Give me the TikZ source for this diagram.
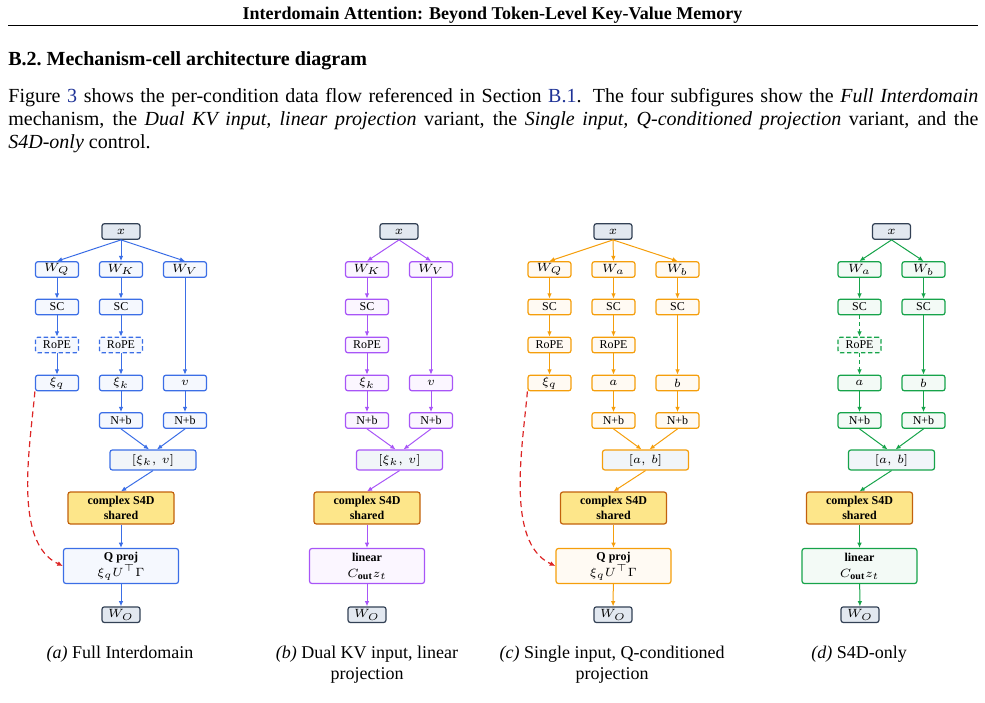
\documentclass[tikz,border=0pt]{standalone}
\usepackage{amssymb, amsmath}
\usepackage{fontspec}
\setmainfont{Liberation Serif}
\usetikzlibrary{arrows.meta}

\definecolor{linkblue}{RGB}{30,50,150}
\definecolor{cA}{RGB}{59,110,230}
\definecolor{cB}{RGB}{168,85,247}
\definecolor{cC}{RGB}{245,158,11}
\definecolor{cD}{RGB}{22,163,74}
\definecolor{kvfill}{RGB}{241,245,249}
\definecolor{xfill}{RGB}{226,232,240}
\definecolor{xdraw}{RGB}{51,65,85}
\definecolor{sfill}{RGB}{253,230,138}
\definecolor{sdraw}{RGB}{194,97,12}
\definecolor{qlink}{RGB}{220,38,38}

\tikzset{
  box/.style={rounded corners=1.2pt, line width=0.6pt, inner sep=0pt, align=center,
    font=\fontsize{6}{8}\selectfont},
  inbox/.style={box, draw=xdraw, fill=xfill, minimum width=19pt, minimum height=7.8pt},
  cell/.style={box, draw=#1, fill=#1!5, minimum width=21.5pt, minimum height=7.8pt},
  optcell/.style={cell=#1, dash pattern=on 2.2pt off 1.3pt},
  kvbox/.style={box, draw=#1, fill=kvfill, minimum width=43pt, minimum height=10pt},
  ssm/.style={box, draw=sdraw, fill=sfill, minimum width=53pt, minimum height=16pt,
    font=\bfseries\fontsize{6}{7.2}\selectfont},
  projbox/.style={box, draw=#1, fill=#1!5, minimum width=57.5pt, minimum height=17.5pt},
  flow/.style={draw=#1, line width=0.5pt, -{Latex[length=2.6pt,width=2.3pt]}},
  optflow/.style={flow=#1, dash pattern=on 2pt off 1.3pt},
  qarrow/.style={draw=qlink, line width=0.6pt, dash pattern=on 3pt off 2pt,
    -{Latex[length=2.8pt,width=2.5pt]}},
  caption/.style={anchor=north, inner sep=0pt, align=center, font=\fontsize{9}{10.5}\selectfont}
}

\begin{document}
\begin{tikzpicture}[x=0.5pt, y=-0.5pt]
\useasboundingbox (0,0) rectangle (985,702);

\node[anchor=base, inner sep=0pt, font=\bfseries\fontsize{9}{11}\selectfont] (runhead) at (492.5,19)
  {Interdomain Attention: Beyond Token-Level Key-Value Memory};
\draw[line width=0.9pt] (8,25.5) -- (978,25.5);
\node[anchor=base west, inner sep=0pt, font=\bfseries\fontsize{10}{12}\selectfont] (sect) at (8,65)
  {B.2.\ Mechanism-cell architecture diagram};
\node[anchor=north west, inner sep=0pt, text width=485pt, align=justify, font=\fontsize{10}{11.5}\selectfont] (para) at (8,88)
  {Figure \textcolor{linkblue}{3} shows the per-condition data flow referenced in Section \textcolor{linkblue}{B.1}. The four subfigures show the \emph{Full Interdomain} mechanism, the \emph{Dual KV input, linear projection} variant, the \emph{Single input, Q-conditioned projection} variant, and the\linebreak \emph{S4D-only} control.};

% (a) full interdomain
\node[inbox] (inA) at (121,231.5) {$x$};
\node[cell=cA] (wqA) at (57,269.5) {$W_Q$};
\node[cell=cA] (wkA) at (121,269.5) {$W_K$};
\node[cell=cA] (wvA) at (185,269.5) {$W_V$};
\node[cell=cA] (scqA) at (57,307) {SC};
\node[cell=cA] (sckA) at (121,307) {SC};
\node[optcell=cA] (ropeqA) at (57,345) {RoPE};
\node[optcell=cA] (ropekA) at (121,345) {RoPE};
\node[cell=cA] (xiqA) at (57,383) {$\xi_q$};
\node[cell=cA] (xikA) at (121,383) {$\xi_k$};
\node[cell=cA] (vA) at (185,383) {$v$};
\node[cell=cA] (nkA) at (121,420.5) {N+b};
\node[cell=cA] (nvA) at (185,420.5) {N+b};
\node[kvbox=cA] (kvA) at (153,460) {$[\xi_k,\ v]$};
\node[ssm] (ssmA) at (121,508) {complex S4D\\shared};
\node[projbox=cA] (projA) at (121,566) {\textbf{Q proj}\\$\xi_q U^\top\Gamma$};
\node[inbox] (woA) at (121,614.7) {$W_O$};
\node[caption] (capA) at (120,646) {\textit{(a)} Full Interdomain};

\draw[flow=cA] (inA.south) -- (wqA.north);
\draw[flow=cA] (inA.south) -- (wkA.north);
\draw[flow=cA] (inA.south) -- (wvA.north);
\draw[flow=cA] (wqA) -- (scqA);
\draw[flow=cA] (scqA) -- (ropeqA);
\draw[flow=cA] (ropeqA) -- (xiqA);
\draw[flow=cA] (wkA) -- (sckA);
\draw[flow=cA] (sckA) -- (ropekA);
\draw[flow=cA] (ropekA) -- (xikA);
\draw[flow=cA] (wvA) -- (vA);
\draw[flow=cA] (xikA) -- (nkA);
\draw[flow=cA] (vA) -- (nvA);
\draw[flow=cA] (nkA.south) -- ([xshift=-2pt]kvA.north);
\draw[flow=cA] (nvA.south) -- ([xshift=2pt]kvA.north);
\draw[flow=cA] (kvA.south) -- (ssmA.north);
\draw[flow=cA] (ssmA) -- (projA);
\draw[flow=cA] (projA) -- (woA);
\draw[qarrow] (xiqA.south west) to[out=265, in=155, looseness=0.8] (projA.west);

% (b) dual kv input, linear projection
\node[inbox] (inB) at (399,231.5) {$x$};
\node[cell=cB] (wkB) at (367,269.5) {$W_K$};
\node[cell=cB] (wvB) at (431,269.5) {$W_V$};
\node[cell=cB] (sckB) at (367,307) {SC};
\node[cell=cB] (ropekB) at (367,345) {RoPE};
\node[cell=cB] (xikB) at (367,383) {$\xi_k$};
\node[cell=cB] (vB) at (431,383) {$v$};
\node[cell=cB] (nkB) at (367,420.5) {N+b};
\node[cell=cB] (nvB) at (431,420.5) {N+b};
\node[kvbox=cB] (kvB) at (399.5,460) {$[\xi_k,\ v]$};
\node[ssm] (ssmB) at (367,508) {complex S4D\\shared};
\node[projbox=cB] (linB) at (367,566) {\textbf{linear}\\$C_{\textbf{out}}z_t$};
\node[inbox] (woB) at (367,614.7) {$W_O$};
\node[caption] (capB) at (367,646) {\textit{(b)} Dual KV input, linear\\projection};

\draw[flow=cB] (inB.south) -- (wkB.north);
\draw[flow=cB] (inB.south) -- (wvB.north);
\draw[flow=cB] (wkB) -- (sckB);
\draw[flow=cB] (sckB) -- (ropekB);
\draw[flow=cB] (ropekB) -- (xikB);
\draw[flow=cB] (wvB) -- (vB);
\draw[flow=cB] (xikB) -- (nkB);
\draw[flow=cB] (vB) -- (nvB);
\draw[flow=cB] (nkB.south) -- ([xshift=-2pt]kvB.north);
\draw[flow=cB] (nvB.south) -- ([xshift=2pt]kvB.north);
\draw[flow=cB] (kvB.south) -- (ssmB.north);
\draw[flow=cB] (ssmB) -- (linB);
\draw[flow=cB] (linB) -- (woB);

% (c) single input, q-conditioned projection
\node[inbox] (inC) at (613,231.5) {$x$};
\node[cell=cC] (wqC) at (549.5,269.5) {$W_Q$};
\node[cell=cC] (waC) at (613.5,269.5) {$W_a$};
\node[cell=cC] (wbC) at (677.5,269.5) {$W_b$};
\node[cell=cC] (scqC) at (549.5,307) {SC};
\node[cell=cC] (scaC) at (613.5,307) {SC};
\node[cell=cC] (scbC) at (677.5,307) {SC};
\node[cell=cC] (ropeqC) at (549.5,345) {RoPE};
\node[cell=cC] (ropeaC) at (613.5,345) {RoPE};
\node[cell=cC] (xiqC) at (549.5,383) {$\xi_q$};
\node[cell=cC] (aC) at (613.5,383) {$a$};
\node[cell=cC] (bC) at (677.5,383) {$b$};
\node[cell=cC] (naC) at (613.5,420.5) {N+b};
\node[cell=cC] (nbC) at (677.5,420.5) {N+b};
\node[kvbox=cC] (abC) at (645.5,460) {$[a,\ b]$};
\node[ssm] (ssmC) at (613.5,508) {complex S4D\\shared};
\node[projbox=cC] (projC) at (613.5,566) {\textbf{Q proj}\\$\xi_q U^\top\Gamma$};
\node[inbox] (woC) at (613,614.7) {$W_O$};
\node[caption] (capC) at (612,646) {\textit{(c)} Single input, Q-conditioned\\projection};

\draw[flow=cC] (inC.south) -- (wqC.north);
\draw[flow=cC] (inC.south) -- (waC.north);
\draw[flow=cC] (inC.south) -- (wbC.north);
\draw[flow=cC] (wqC) -- (scqC);
\draw[flow=cC] (scqC) -- (ropeqC);
\draw[flow=cC] (ropeqC) -- (xiqC);
\draw[flow=cC] (waC) -- (scaC);
\draw[flow=cC] (scaC) -- (ropeaC);
\draw[flow=cC] (ropeaC) -- (aC);
\draw[flow=cC] (wbC) -- (scbC);
\draw[flow=cC] (scbC) -- (bC);
\draw[flow=cC] (aC) -- (naC);
\draw[flow=cC] (bC) -- (nbC);
\draw[flow=cC] (naC.south) -- ([xshift=-2pt]abC.north);
\draw[flow=cC] (nbC.south) -- ([xshift=2pt]abC.north);
\draw[flow=cC] (abC.south) -- (ssmC.north);
\draw[flow=cC] (ssmC) -- (projC);
\draw[flow=cC] (projC) -- (woC);
\draw[qarrow] (xiqC.south west) to[out=265, in=155, looseness=0.8] (projC.west);

% (d) s4d only
\node[inbox] (inD) at (891.5,231.5) {$x$};
\node[cell=cD] (waD) at (859.5,269.5) {$W_a$};
\node[cell=cD] (wbD) at (923.5,269.5) {$W_b$};
\node[cell=cD] (scaD) at (859.5,307) {SC};
\node[cell=cD] (scbD) at (923.5,307) {SC};
\node[optcell=cD] (ropeaD) at (859.5,345) {RoPE};
\node[cell=cD] (aD) at (859.5,383) {$a$};
\node[cell=cD] (bD) at (923.5,383) {$b$};
\node[cell=cD] (naD) at (859.5,420.5) {N+b};
\node[cell=cD] (nbD) at (923.5,420.5) {N+b};
\node[kvbox=cD] (abD) at (891.5,460) {$[a,\ b]$};
\node[ssm] (ssmD) at (859.5,508) {complex S4D\\shared};
\node[projbox=cD] (linD) at (859.5,566) {\textbf{linear}\\$C_{\textbf{out}}z_t$};
\node[inbox] (woD) at (860,614.7) {$W_O$};
\node[caption] (capD) at (859,646) {\textit{(d)} S4D-only};

\draw[flow=cD] (inD.south) -- (waD.north);
\draw[flow=cD] (inD.south) -- (wbD.north);
\draw[flow=cD] (waD) -- (scaD);
\draw[optflow=cD] (scaD) -- (ropeaD);
\draw[optflow=cD] (ropeaD) -- (aD);
\draw[flow=cD] (wbD) -- (scbD);
\draw[flow=cD] (scbD) -- (bD);
\draw[flow=cD] (aD) -- (naD);
\draw[flow=cD] (bD) -- (nbD);
\draw[flow=cD] (naD.south) -- ([xshift=-2pt]abD.north);
\draw[flow=cD] (nbD.south) -- ([xshift=2pt]abD.north);
\draw[flow=cD] (abD.south) -- (ssmD.north);
\draw[flow=cD] (ssmD) -- (linD);
\draw[flow=cD] (linD) -- (woD);
\end{tikzpicture}
\end{document}
